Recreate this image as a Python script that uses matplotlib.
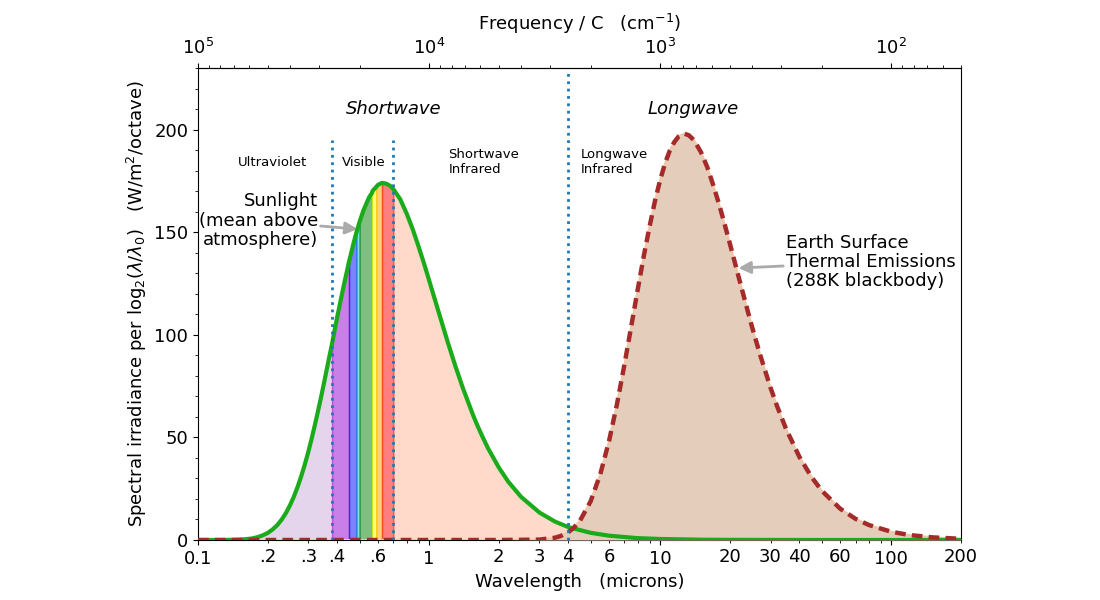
# Sunlight vs earth thermal emission, per octave of wavelength.
import numpy as np
import matplotlib
matplotlib.use("Agg")
from matplotlib import pyplot as plt
from matplotlib import ticker

plt.rcParams["font.family"] = ["DejaVu Sans"]

# Sun (5778K, mean above atmosphere)
wl_sun = np.array([0.1, 0.12, 0.13, 0.15, 0.16, 0.17, 0.18, 0.19, 0.2, 0.21, 0.22, 0.23, 0.24,
                   0.25, 0.26, 0.27, 0.28, 0.29, 0.3, 0.31, 0.32, 0.33, 0.34, 0.35, 0.36, 0.37,
                   0.38, 0.39, 0.4, 0.42, 0.43, 0.45, 0.47, 0.485, 0.5, 0.52, 0.55, 0.565, 0.57,
                   0.59, 0.6, 0.625, 0.65, 0.68, 0.7, 0.75, 0.8, 0.85, 0.9, 0.95, 1.0, 1.1, 1.2,
                   1.3, 1.4, 1.55, 1.6, 1.7, 1.8, 2.0, 2.2, 2.5, 3.0, 3.5, 4.0, 5.0, 6.0, 8.0,
                   10.0, 15.0, 20.0, 50.0, 200.0])
sun = np.array([0.0, 0.01, 0.02, 0.17, 0.37, 0.7, 1.3, 2.2, 3.4, 5.1, 7.2, 9.9, 13.1,
                16.9, 21.2, 26.0, 31.3, 36.9, 42.9, 49.2, 55.8, 62.4, 69.1, 75.9, 82.7, 89.3,
                95.5, 102.2, 108.5, 120.0, 125.4, 135.5, 144.2, 150.0, 155.0, 160.7, 167.0, 169.0, 170.2,
                172.0, 173.0, 174.0, 173.7, 172.5, 171.0, 166.0, 159.0, 151.3, 143.0, 134.8, 126.5, 111.0, 96.9,
                84.6, 74.0, 60.8, 57.0, 50.4, 44.6, 35.4, 28.4, 21.0, 13.4, 9.0, 6.3, 3.5, 2.1, 0.9,
                0.5, 0.15, 0.07, 0.0, 0.0])

# Earth surface (288K blackbody)
wl_earth = np.array([0.1, 2.0, 3.0, 3.5, 3.7, 4.0, 4.2, 4.5, 5.0, 5.5, 6.0, 6.5, 7.0, 7.5, 8.0,
                     8.5, 9.0, 9.5, 10.0, 10.5, 11.0, 11.5, 12.0, 12.7, 13.3, 14.0, 15.0, 16.0,
                     17.0, 18.0, 19.0, 20.0, 22.0, 24.0, 25.0, 27.0, 30.0, 32.0, 35.0, 40.0,
                     45.0, 50.0, 60.0, 70.0, 80.0, 100.0, 120.0, 150.0, 200.0])
earth = np.array([0.0, 0.0, 0.19, 1.1, 1.9, 3.8, 5.7, 9.5, 18.9, 32.0, 48.1, 66.3, 85.5, 104.5, 122.4,
                  138.8, 153.0, 165.5, 175.6, 183.7, 189.8, 193.9, 196.6, 198.0, 197.2, 194.8, 189.0, 181.5,
                  172.5, 163.3, 153.8, 144.5, 126.8, 110.8, 103.5, 90.5, 74.2, 65.3, 54.2, 40.5,
                  30.9, 24.0, 15.3, 10.3, 7.3, 4.0, 2.4, 1.3, 0.57])

# visible colour bands (microns)
band_edges = [0.38, 0.45, 0.485, 0.5, 0.565, 0.59, 0.625, 0.7]
band_colors = ["darkviolet", "blue", "c", "g", "yellow", "orange", "r"]

bottom_minor = [0.2, 0.3, 0.4, 0.5, 0.6, 0.7, 0.8, 0.9, 2, 3, 4, 5, 6, 7, 8, 9,
                20, 30, 40, 50, 60, 70, 80, 90, 200]
bottom_minor_lbl = [".2", ".3", ".4", "", ".6", "", "", "", "2", "3", "4", "", "6", "", "", "",
                    "20", "30", "40", "", "60", "", "", "", "200"]
top_major = [1e5, 1e4, 1e3, 1e2]
top_minor = [k * d for d in (1e4, 1e3, 1e2) for k in range(2, 10)] + [50, 60, 70, 80, 90]

fig = plt.figure(figsize=(11, 6), dpi=100)
ax = fig.add_axes([0.18, 0.1, 0.6936, 0.7867])

# fills under the sun curve
uv = wl_sun <= band_edges[0]
ax.fill_between(wl_sun[uv], 0, sun[uv], color="#e4d4ec", lw=0, zorder=1)
ir = wl_sun >= band_edges[-1]
ax.fill_between(wl_sun[ir], 0, sun[ir], color="#ffd9c9", lw=0, zorder=1)
for lo, hi, c in zip(band_edges[:-1], band_edges[1:], band_colors):
    m = (wl_sun >= lo) & (wl_sun <= hi)
    ax.fill_between(wl_sun[m], 0, sun[m], color=c, alpha=0.5, lw=1, zorder=2)

# earth emission
ax.fill_between(wl_earth, 0, earth, color="#e5cdbb", lw=0, zorder=3)
ax.plot(wl_earth, earth, color="#ecc7aa", lw=1.5, zorder=4)
ax.plot(wl_earth, earth, color="#a52a2a", lw=3.2, ls=(0, (2.4, 1.4)), zorder=6)
ax.plot(wl_sun, sun, color="#1aab1a", lw=3, zorder=5)

# region separators
ax.plot([0.38, 0.38], [0, 195], color="#1f77b4", ls=":", lw=2, zorder=7)
ax.plot([0.7, 0.7], [0, 195], color="#1f77b4", ls=":", lw=2, zorder=7)
ax.plot([4, 4], [0, 228], color="#1f77b4", ls=":", lw=2, zorder=7)

ax.set_xscale("log")
ax.set_xlim(0.1, 200)
ax.set_ylim(0, 230)

ax.set_xticks([0.1, 1, 10, 100], ["0.1", "1", "10", "100"])
ax.set_xticks(bottom_minor, bottom_minor_lbl, minor=True)
ax.tick_params(axis="x", which="both", labelsize=13)
ax.yaxis.set_major_locator(ticker.MultipleLocator(50))
ax.yaxis.set_minor_locator(ticker.MultipleLocator(10))
ax.tick_params(axis="y", labelsize=13)

ax.set_xlabel("Wavelength   (microns)", fontsize=13)
ax.set_ylabel(r"Spectral irradiance per log$_2$($\lambda/\lambda_0$)   (W/m$^2$/octave)", fontsize=13)

top = ax.secondary_xaxis("top", functions=(lambda x: 1e4 / x, lambda x: 1e4 / x))
top.set_xticks(top_major)
top.set_xticks(top_minor, minor=True)
top.xaxis.set_minor_formatter(ticker.NullFormatter())
top.set_xlabel(r"Frequency / C   (cm$^{-1}$)", fontsize=13, labelpad=6)
top.tick_params(labelsize=13)

# labels
ax.text(0.7, 210, "Shortwave", style="italic", fontsize=13, ha="center", va="center")
ax.text(13.9, 210, "Longwave", style="italic", fontsize=13, ha="center", va="center")
ax.text(0.211, 184, "Ultraviolet", fontsize=9.5, ha="center", va="center")
ax.text(0.524, 184, "Visible", fontsize=9.5, ha="center", va="center")
ax.text(1.21, 184, "Shortwave\nInfrared", fontsize=9.5, ha="left", va="center")
ax.text(4.55, 184, "Longwave\nInfrared", fontsize=9.5, ha="left", va="center")

ax.annotate("Sunlight\n(mean above\natmosphere)", xy=(0.49, 151.5), xytext=(0.33, 155.5),
            fontsize=13, ha="right", va="center", linespacing=1.1,
            arrowprops=dict(arrowstyle="-|>", color="#aaaaaa", lw=2, mutation_scale=18,
                            shrinkA=0, shrinkB=0))
ax.annotate("Earth Surface\nThermal Emissions\n(288K blackbody)", xy=(21.8, 132.5), xytext=(35, 135.5),
            fontsize=13, ha="left", va="center", linespacing=1.05,
            arrowprops=dict(arrowstyle="-|>", color="#aaaaaa", lw=2, mutation_scale=18,
                            shrinkA=0, shrinkB=0))

plt.savefig("out.png")
